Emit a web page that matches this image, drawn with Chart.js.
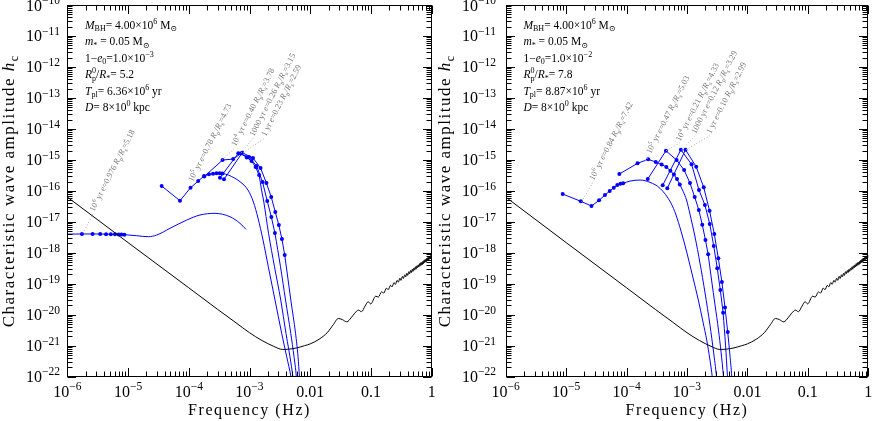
<!DOCTYPE html>
<html>
<head>
<meta charset="utf-8">
<script src="https://cdn.jsdelivr.net/npm/chart.js@4.4.1/dist/chart.umd.min.js"></script>
<style>
html, body { margin: 0; padding: 0; background: #fff; overflow: hidden; }
#wrap { position: relative; width: 873px; height: 421px; }
canvas { position: absolute; top: 0; }
</style>
</head>
<body>
<div id="wrap">
  <canvas id="leftChart" width="436" height="421" style="left:0;width:436px;height:421px"></canvas>
  <canvas id="rightChart" width="437" height="421" style="left:436px;width:437px;height:421px"></canvas>
</div>
<script>
// 축 눈금
const xTickValues = [1e-6, 1e-5, 1e-4, 1e-3, 0.01, 0.1, 1];
const xTickLabels = ['10^{−6}', '10^{−5}', '10^{−4}', '10^{−3}', '0.01', '0.1', '1'];
const yTickValues = [1e-10, 1e-11, 1e-12, 1e-13, 1e-14, 1e-15, 1e-16, 1e-17, 1e-18, 1e-19, 1e-20, 1e-21, 1e-22];
const yTickLabels = ['10^{−10}', '10^{−11}', '10^{−12}', '10^{−13}', '10^{−14}', '10^{−15}', '10^{−16}',
                     '10^{−17}', '10^{−18}', '10^{−19}', '10^{−20}', '10^{−21}', '10^{−22}'];

// LISA sensitivity curve (same in both panels), amplitude given as log10(h_c)
const lisaFreq = [1e-6, 1e-5, 1e-4, 3e-4, 6e-4, 1e-3, 1.6e-3, 2.5e-3, 3.5e-3, 4.5e-3, 6e-3, 8e-3, 0.01, 0.014, 0.019,
  0.024, 0.029, 0.034, 0.040, 0.047, 0.054, 0.062, 0.070, 0.080, 0.090, 0.099,
  0.12, 0.132, 0.15, 0.162, 0.18, 0.192, 0.21, 0.222, 0.24, 0.252, 0.27, 0.282, 0.30, 0.312, 0.33, 0.342,
  0.36, 0.372, 0.39, 0.402, 0.42, 0.432, 0.45, 0.462, 0.48, 0.492, 0.51, 0.522, 0.54, 0.552, 0.57, 0.582,
  0.60, 0.612, 0.63, 0.642, 0.66, 0.672, 0.69, 0.702, 0.72, 0.732, 0.75, 0.762, 0.78, 0.792, 0.81, 0.822,
  0.84, 0.852, 0.87, 0.882, 0.90, 0.912, 0.93, 0.942, 0.96, 0.972, 0.99, 1.002];
const lisaLogAmp = [-16.20, -17.67, -19.13, -19.83, -20.26, -20.58, -20.83, -21.02, -21.12, -21.11, -21.07, -21.00, -20.94, -20.79, -20.58,
  -20.32, -20.12, -20.16, -20.23, -20.10, -19.95, -19.85, -19.90, -19.72, -19.58, -19.65,
  -19.40, -19.43, -19.26, -19.30, -19.14, -19.19, -19.05, -19.10, -18.96, -19.02, -18.89, -18.95, -18.82, -18.89, -18.76, -18.83,
  -18.71, -18.78, -18.66, -18.73, -18.61, -18.68, -18.57, -18.64, -18.53, -18.60, -18.49, -18.56, -18.45, -18.53, -18.42, -18.49,
  -18.39, -18.46, -18.35, -18.43, -18.32, -18.40, -18.30, -18.38, -18.27, -18.35, -18.24, -18.32, -18.22, -18.30, -18.20, -18.28,
  -18.17, -18.25, -18.15, -18.23, -18.13, -18.21, -18.11, -18.19, -18.09, -18.17, -18.07, -18.15];

// 왼쪽 패널 (1-e0 = 1e-3)
const l6Freq = [8.7e-7, 1.74e-6, 2.61e-6, 3.48e-6, 4.35e-6, 5.2e-6, 6.1e-6, 7.0e-6, 7.8e-6, 8.7e-6,
  1.39e-5, 2.16e-5, 2.96e-5, 4.91e-5, 9.25e-5, 1.53e-4, 2.70e-4, 4.77e-4, 6.98e-4, 8.77e-4];
const l6Amp = [4.0e-18, 4.05e-18, 4.05e-18, 4.05e-18, 4.0e-18, 4.0e-18, 3.95e-18, 3.9e-18, 3.9e-18, 3.85e-18,
  3.56e-18, 3.31e-18, 3.74e-18, 6.17e-18, 1.14e-17, 1.66e-17, 1.88e-17, 1.46e-17, 8.93e-18, 5.71e-18];
const l5Freq = [3.58e-5, 7.16e-5, 1.07e-4, 1.43e-4, 1.79e-4, 2.15e-4, 2.51e-4, 2.86e-4, 3.22e-4, 3.58e-4,
  4.48e-4, 6.98e-4, 9.44e-4, 1.16e-3, 1.38e-3, 1.67e-3, 2.04e-3, 2.63e-3, 3.39e-3, 4.10e-3, 4.83e-3, 5.21e-3];
const l5Amp = [1.43e-16, 4.80e-17, 1.26e-16, 2.07e-16, 3.01e-16, 3.41e-16, 3.57e-16, 3.68e-16, 3.68e-16, 3.65e-16,
  3.24e-16, 1.97e-16, 1.06e-16, 4.36e-17, 1.32e-17, 2.58e-18, 3.55e-19, 2.99e-20, 2.51e-21, 4.40e-22, 9.7e-23, 3.7e-23];
const l4Freq = [1.80e-4, 3.60e-4, 5.40e-4, 7.20e-4, 9.00e-4, 1.08e-3, 1.26e-3, 1.44e-3,
  1.58e-3, 1.70e-3, 2.06e-3, 2.58e-3, 3.27e-3, 3.99e-3, 4.92e-3, 5.51e-3];
const l4Amp = [2.90e-16, 9.89e-16, 1.06e-15, 1.60e-15, 1.19e-15, 9.18e-16, 5.88e-16, 3.24e-16,
  1.06e-16, 5.06e-17, 4.25e-18, 3.55e-19, 2.99e-20, 2.51e-21, 2.09e-22, 3.71e-23];
const l3Freq = [3.27e-4, 6.54e-4, 9.81e-4, 1.31e-3, 1.64e-3, 1.96e-3, 2.29e-3, 2.62e-3,
  3.24e-3, 3.92e-3, 4.78e-3, 5.41e-3, 5.90e-3, 6.05e-3];
const l3Amp = [2.65e-16, 1.63e-15, 1.24e-15, 6.33e-16, 1.93e-16, 4.69e-17, 1.43e-17, 4.35e-18,
  3.55e-19, 2.99e-20, 2.51e-21, 4.40e-22, 9.7e-23, 3.7e-23];
const l1Freq = [3.80e-4, 7.60e-4, 1.14e-3, 1.52e-3, 1.90e-3, 2.28e-3, 2.66e-3, 3.04e-3, 3.42e-3, 3.80e-3,
  4.28e-3, 4.79e-3, 5.73e-3, 6.30e-3, 6.65e-3, 6.87e-3];
const l1Amp = [2.35e-16, 1.70e-15, 1.15e-15, 5.46e-16, 1.79e-16, 6.31e-17, 2.07e-17, 7.87e-18, 2.78e-18, 8.47e-19,
  1.53e-19, 2.99e-20, 2.51e-21, 4.40e-22, 9.7e-23, 3.7e-23];

// 오른쪽 패널 (1-e0 = 1e-2)
const r6Freq = [8.77e-6, 1.75e-5, 2.63e-5, 3.51e-5, 4.39e-5, 5.26e-5, 6.14e-5, 7.02e-5, 7.89e-5, 8.77e-5,
  1.14e-4, 1.67e-4, 2.44e-4, 3.57e-4, 5.43e-4, 6.58e-4, 7.96e-4, 9.89e-4, 1.26e-3, 1.54e-3, 1.84e-3, 2.12e-3, 2.40e-3, 2.62e-3, 2.75e-3];
const r6Amp = [7.89e-17, 4.59e-17, 3.24e-17, 4.94e-17, 7.33e-17, 9.86e-17, 1.26e-16, 1.54e-16, 1.70e-16, 1.75e-16,
  2.07e-16, 2.23e-16, 1.88e-16, 1.21e-16, 4.04e-17, 1.66e-17, 5.04e-18, 1.06e-18, 1.53e-19, 2.99e-20, 5.81e-21, 1.52e-21, 3.44e-22, 9.7e-23, 3.7e-23];
const r5Freq = [7.59e-5, 1.52e-4, 2.28e-4, 3.04e-4, 3.80e-4, 4.55e-4, 5.31e-4, 6.07e-4, 6.83e-4, 7.59e-4,
  8.69e-4, 9.82e-4, 1.12e-3, 1.36e-3, 1.64e-3, 1.99e-3, 2.40e-3, 2.75e-3, 3.08e-3, 3.20e-3];
const r5Amp = [3.49e-16, 7.74e-16, 1.04e-15, 8.53e-16, 7.08e-16, 5.88e-16, 4.46e-16, 3.37e-16, 2.41e-16, 1.60e-16,
  9.37e-17, 5.06e-17, 1.78e-17, 3.23e-18, 4.67e-19, 5.02e-20, 4.65e-21, 6.25e-22, 9.7e-23, 3.7e-23];
const r4Freq = [2.24e-4, 4.48e-4, 6.72e-4, 8.96e-4, 1.12e-3, 1.34e-3, 1.57e-3, 1.79e-3, 2.02e-3, 2.24e-3,
  2.55e-3, 2.91e-3, 3.32e-3, 3.66e-3, 4.02e-3, 4.18e-3];
const r4Amp = [2.41e-16, 1.97e-15, 9.89e-16, 4.70e-16, 1.79e-16, 6.31e-17, 2.40e-17, 8.05e-18, 2.58e-18, 8.91e-19,
  1.32e-19, 2.06e-20, 3.21e-21, 6.25e-22, 9.7e-23, 3.7e-23];
const r3Freq = [3.96e-4, 7.92e-4, 1.19e-3, 1.58e-3, 1.98e-3, 2.38e-3, 2.77e-3, 3.17e-3, 3.56e-3, 3.96e-3,
  4.34e-3, 4.68e-3, 4.83e-3];
const r3Amp = [1.51e-16, 2.13e-15, 7.18e-16, 1.06e-16, 3.48e-17, 8.49e-18, 1.65e-18, 3.15e-19, 6.27e-20, 1.16e-20,
  1.05e-21, 9.7e-23, 3.7e-23];
const r1Freq = [4.72e-4, 9.44e-4, 1.42e-3, 1.89e-3, 2.36e-3, 2.83e-3, 3.30e-3, 3.78e-3, 4.25e-3, 4.72e-3,
  5.15e-3, 5.50e-3, 5.62e-3];
const r1Amp = [1.21e-16, 2.13e-15, 6.01e-16, 1.30e-16, 2.28e-17, 4.04e-18, 6.62e-19, 1.14e-19, 1.73e-20, 2.76e-21,
  4.64e-22, 9.7e-23, 3.7e-23];

// 파라미터 텍스트 (~ = italic, _ = sub, ^ = sup)
const leftParams = ['~M~_{BH}= 4.00×10^6 M_⊙', '~m~_* = 0.05 M_⊙', '1−~e~_0=1.0×10^{−3}',
  '~R~^0_p/~R~_*= 5.2', '~T~_{pl}= 6.36×10^6 yr', '~D~= 8×10^0 kpc'];
const rightParams = ['~M~_{BH}= 4.00×10^6 M_⊙', '~m~_* = 0.05 M_⊙', '1−~e~_0=1.0×10^{−2}',
  '~R~^0_p/~R~_*= 7.8', '~T~_{pl}= 8.87×10^6 yr', '~D~= 8×10^0 kpc'];

// 곡선 라벨 (leader from -> to, in data units)
const leftNotes = [
  { text: '10^6 yr ~e~=0.976 ~R~_p/~R~_s=5.18', from: [1.80e-6, 4.25e-18], to: [2.68e-6, 1.88e-17] },
  { text: '10^5 yr ~e~=0.78 ~R~_p/~R~_s=4.73', from: null, to: [1.13e-4, 1.72e-16] },
  { text: '10^4 yr ~e~=0.40 ~R~_p/~R~_s=3.78', from: [3.56e-4, 1.04e-15], to: [5.77e-4, 2.41e-15] },
  { text: '1000 yr ~e~=0.26 ~R~_p/~R~_s=3.15', from: [7.24e-4, 1.66e-15], to: [1.16e-3, 5.08e-15] },
  { text: '1 yr ~e~=0.23 ~R~_p/~R~_s=2.59', from: [7.81e-4, 1.66e-15], to: [1.80e-3, 5.08e-15] }
];
const rightNotes = [
  { text: '10^6 yr ~e~=0.84 ~R~_p/~R~_s=7.42', from: [1.81e-5, 4.45e-17], to: [2.79e-5, 1.93e-16] },
  { text: '10^5 yr ~e~=0.47 ~R~_p/~R~_s=5.03', from: [2.02e-4, 9.18e-16], to: [2.44e-4, 1.38e-15] },
  { text: '10^4 yr ~e~=0.21 ~R~_p/~R~_s=4.33', from: [4.50e-4, 1.97e-15], to: [7.52e-4, 3.50e-15] },
  { text: '1000 yr ~e~=0.12 ~R~_p/~R~_s=3.29', from: [8.26e-4, 2.13e-15], to: [1.36e-3, 6.11e-15] },
  { text: '1 yr ~e~=0.10 ~R~_p/~R~_s=2.99', from: [9.64e-4, 2.13e-15], to: [2.40e-3, 6.11e-15] }
];

const BLUE = 'rgb(0,0,255)';
const FONT = '"Liberation Serif", "DejaVu Serif", serif';

// 간단한 위/아래 첨자 텍스트
function parseRich(s) {
  const segs = [];
  let it = false, buf = '', i = 0;
  const flush = () => { if (buf) segs.push({ t: buf, it, mode: 0 }); buf = ''; };
  while (i < s.length) {
    const c = s[i];
    if (c === '~') { flush(); it = !it; i++; continue; }
    if (c === '_' || c === '^') {
      flush();
      let t;
      if (s[i + 1] === '{') { const j = s.indexOf('}', i); t = s.slice(i + 2, j); i = j + 1; }
      else { t = s[i + 1]; i += 2; }
      segs.push({ t, it: false, mode: c === '_' ? -1 : 1 });
      continue;
    }
    buf += c; i++;
  }
  flush();
  return segs;
}

function segFont(seg, size, sr) {
  const s = seg.mode ? size * sr : size;
  return (seg.it ? 'italic ' : '') + s.toFixed(2) + 'px ' + FONT;
}

function layoutRich(ctx, segs, size, ls, sr) {
  let x = 0, last = null;
  const items = [];
  segs.forEach(seg => {
    ctx.font = segFont(seg, size, sr);
    let w = 0;
    for (const ch of seg.t) w += ctx.measureText(ch).width + ls;
    const stack = seg.mode && last && last.mode === -seg.mode;
    const sx = stack ? last.x : x;
    items.push({ seg, x: sx });
    if (stack) { x = sx + Math.max(w, last.w); last = null; }
    else { x = sx + w; last = seg.mode ? { mode: seg.mode, x: sx, w } : null; }
  });
  return { items, width: x };
}

function drawRich(ctx, str, x, y, size, opt = {}) {
  const sr = opt.sr || 0.7;
  const segs = parseRich(str);
  let ls = 0;
  let lay = layoutRich(ctx, segs, size, 0, sr);
  if (opt.width) {
    const n = segs.reduce((a, s) => a + [...s.t].length, 0);
    ls = (opt.width - lay.width) / n;
    lay = layoutRich(ctx, segs, size, ls, sr);
  }
  let x0 = x;
  if (opt.align === 'center') x0 -= lay.width / 2;
  else if (opt.align === 'right') x0 -= lay.width;
  ctx.textAlign = 'left';
  ctx.textBaseline = 'alphabetic';
  lay.items.forEach(item => {
    ctx.font = segFont(item.seg, size, sr);
    const dy = item.seg.mode === 1 ? -size * 0.42 : item.seg.mode === -1 ? size * 0.25 : 0;
    let cx = x0 + item.x;
    for (const ch of item.seg.t) {
      ctx.fillText(ch, cx, y + dy);
      cx += ctx.measureText(ch).width + ls;
    }
  });
}

// 틀, 눈금, 글자
const framePlugin = {
  id: 'frame',
  afterDatasetsDraw(chart) {
    const o = chart.options.plugins.frame;
    const { ctx, chartArea: a } = chart;
    const xs = chart.scales.x, ys = chart.scales.y;
    const L = Math.round(a.left) + 0.5, R = Math.round(a.right) - 0.5;
    const T = Math.round(a.top) + 0.5, B = Math.round(a.bottom) - 0.5;
    ctx.save();
    ctx.strokeStyle = '#000';
    ctx.lineWidth = 1;
    ctx.strokeRect(L, T, R - L, B - T);

    ctx.beginPath();
    for (let d = -6; d <= 0; d++) {
      for (let m = 1; m <= 9; m++) {
        const v = m * Math.pow(10, d);
        if (v > 1.0001) break;
        const px = Math.round(xs.getPixelForValue(v)) + 0.5;
        const len = m === 1 ? 8.5 : 5;
        ctx.moveTo(px, B); ctx.lineTo(px, B - len);
        ctx.moveTo(px, T); ctx.lineTo(px, T + len);
      }
    }
    for (let d = -22; d <= -10; d++) {
      for (let m = 1; m <= 9; m++) {
        const v = m * Math.pow(10, d);
        if (v > 1.0001e-10) break;
        const py = Math.round(ys.getPixelForValue(v)) + 0.5;
        const len = m === 1 ? 8.5 : 5;
        ctx.moveTo(L, py); ctx.lineTo(L + len, py);
        ctx.moveTo(R, py); ctx.lineTo(R - len, py);
      }
    }
    ctx.stroke();

    ctx.fillStyle = '#000';
    xTickValues.forEach((v, i) => drawRich(ctx, xTickLabels[i], xs.getPixelForValue(v), 396.5, 16, { align: 'center', sr: 0.72 }));
    yTickValues.forEach((v, i) => drawRich(ctx, yTickLabels[i], 60, ys.getPixelForValue(v) + 5.5, 16, { align: 'right', sr: 0.72 }));

    drawRich(ctx, 'Frequency (Hz)', (a.left + a.right) / 2, 414.5, 16, { align: 'center', width: 123 });
    ctx.save();
    ctx.translate(14, (a.top + a.bottom) / 2);
    ctx.rotate(-Math.PI / 2);
    drawRich(ctx, 'Characteristic wave amplitude ~h~_c', 0, 0, 17, { align: 'center', width: 273 });
    ctx.restore();

    o.params.forEach((s, i) => drawRich(ctx, s, a.left + 17.7, 28.5 + 16.5 * i, 11.5));

    o.notes.forEach(n => {
      const tx = xs.getPixelForValue(n.to[0]), ty = ys.getPixelForValue(n.to[1]);
      if (n.from) {
        ctx.save();
        ctx.strokeStyle = '#aaa';
        ctx.setLineDash([1, 2]);
        ctx.beginPath();
        ctx.moveTo(xs.getPixelForValue(n.from[0]), ys.getPixelForValue(n.from[1]));
        ctx.lineTo(tx, ty);
        ctx.stroke();
        ctx.restore();
      }
      ctx.save();
      ctx.translate(tx, ty);
      ctx.rotate(-63 * Math.PI / 180);
      ctx.fillStyle = '#777';
      drawRich(ctx, n.text, 1.5, 0, 8.5);
      ctx.restore();
    });
    ctx.restore();
  }
};

function buildChart(id, tracks, params, notes, yAxisWidth, padRight) {
  const datasets = [{
    data: lisaFreq.map((f, i) => ({ x: f, y: Math.pow(10, lisaLogAmp[i]) })),
    showLine: true,
    borderColor: '#000',
    borderWidth: 1,
    pointRadius: 0,
    cubicInterpolationMode: 'monotone'
  }];
  tracks.forEach(t => {
    const pts = t.freq.map((f, i) => ({ x: f, y: t.amp[i] }));
    // 점이 찍힌 고조파 구간
    datasets.push({
      data: pts.slice(0, t.dots),
      showLine: true,
      borderColor: BLUE,
      borderWidth: 1,
      tension: 0,
      pointRadius: 2,
      pointHoverRadius: 2,
      pointBackgroundColor: BLUE,
      pointBorderWidth: 0
    });
    // 매끄러운 나머지 구간
    datasets.push({
      data: pts.slice(t.dots - 1),
      showLine: true,
      borderColor: BLUE,
      borderWidth: 1,
      pointRadius: 0,
      cubicInterpolationMode: 'monotone'
    });
  });

  return new Chart(document.getElementById(id), {
    type: 'scatter',
    data: { datasets },
    options: {
      responsive: false,
      animation: false,
      devicePixelRatio: 1,
      events: [],
      layout: { padding: { left: 0, right: padRight, top: 5, bottom: 0 } },
      plugins: {
        legend: { display: false },
        tooltip: { enabled: false },
        frame: { params, notes }
      },
      scales: {
        x: {
          type: 'logarithmic', min: 1e-6, max: 1,
          grid: { display: false }, border: { display: false }, ticks: { display: false },
          afterFit: s => { s.height = 44.3; }
        },
        y: {
          type: 'logarithmic', min: 1e-22, max: 1e-10,
          grid: { display: false }, border: { display: false }, ticks: { display: false },
          afterFit: s => { s.width = yAxisWidth; }
        }
      }
    },
    plugins: [framePlugin]
  });
}

document.addEventListener('DOMContentLoaded', function() {
  buildChart('leftChart', [
    { freq: l6Freq, amp: l6Amp, dots: 10 },
    { freq: l5Freq, amp: l5Amp, dots: 10 },
    { freq: l4Freq, amp: l4Amp, dots: 8 },
    { freq: l3Freq, amp: l3Amp, dots: 8 },
    { freq: l1Freq, amp: l1Amp, dots: 10 }
  ], leftParams, leftNotes, 67.3, 4.3);

  buildChart('rightChart', [
    { freq: r6Freq, amp: r6Amp, dots: 10 },
    { freq: r5Freq, amp: r5Amp, dots: 10 },
    { freq: r4Freq, amp: r4Amp, dots: 10 },
    { freq: r3Freq, amp: r3Amp, dots: 10 },
    { freq: r1Freq, amp: r1Amp, dots: 10 }
  ], rightParams, rightNotes, 69.7, 4.7);
});
</script>
</body>
</html>
